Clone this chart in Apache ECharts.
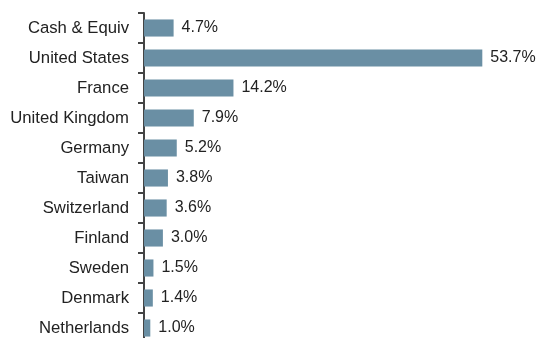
<!DOCTYPE html>
<html><head><meta charset="utf-8">
<script src="https://cdn.jsdelivr.net/npm/echarts@6/dist/echarts.min.js"></script>
<style>html,body{margin:0;padding:0;background:#fff}#c{width:538px;height:338px}</style>
</head><body><div id="c"></div>
<script>
const categories = ["Cash & Equiv","United States","France","United Kingdom","Germany","Taiwan","Switzerland","Finland","Sweden","Denmark","Netherlands"];
const values = [4.7,53.7,14.2,7.9,5.2,3.8,3.6,3.0,1.5,1.4,1.0];

const chart = echarts.init(document.getElementById('c'));
chart.setOption({
  animation:false,
  grid:{left:144,top:13,width:378,height:330,containLabel:false,outerBoundsMode:'none'},
  xAxis:{type:'value',min:0,max:60,show:false},
  yAxis:{type:'category',data:categories,inverse:true,
    axisLine:{show:true,lineStyle:{color:'#444',width:2}},
    axisTick:{show:true,length:6,lineStyle:{color:'#444',width:2}},
    axisLabel:{color:'#222',fontSize:16.7,fontFamily:'Liberation Sans, Arial, sans-serif',margin:15}
  },
  series:[{type:'bar',data:values,barCategoryGap:'43%',
    itemStyle:{color:'#6a8fa4'},
    label:{show:true,position:'right',distance:8,color:'#222',fontSize:16,fontFamily:'Liberation Sans, Arial, sans-serif',
      formatter:p=>p.value.toFixed(1)+'%'}
  }]
});
</script></body></html>
